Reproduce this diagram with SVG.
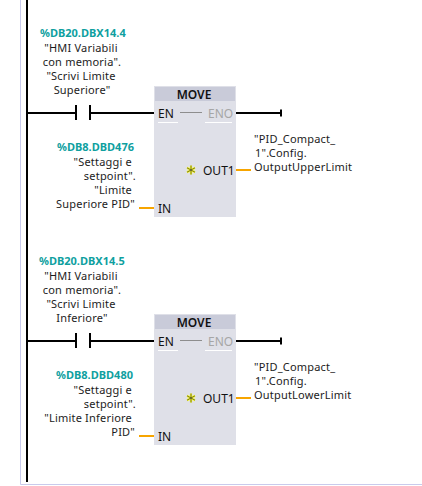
<svg xmlns="http://www.w3.org/2000/svg" width="422" height="486" viewBox="0 0 422 486">
<style>
text{font-family:"Noto Sans","Open Sans","Liberation Sans",sans-serif;font-size:11px;fill:#1c1c1c;letter-spacing:.2px}
.tag{font-weight:700;fill:#0f9f9f;font-size:11px;letter-spacing:0}
.m{text-anchor:middle}.e{text-anchor:end}
.pin{font-size:12px;fill:#111;letter-spacing:0}
.title{font-size:12px;font-weight:600;text-anchor:middle;fill:#111;letter-spacing:0}
.eno{fill:#a6a6a6}
.blk{fill:#dfe0e8}.hdr{fill:#c9cbd9}
.w{stroke:#000;stroke-width:2;fill:none}
.o{stroke:#f7a500;stroke-width:2;fill:none}
.g{stroke:#8e8e8e;stroke-width:1;fill:none}
.u{stroke:#fff;stroke-width:1;fill:none}
.sd{stroke:#ffff20;stroke-width:2.2;fill:none}
.sy{stroke:#4a4a30;stroke-width:.8;fill:none}
</style>
<defs>
<g id="star"><path class="sd" d="M0-4.500V4.500M-4-2.200 4 2.200M-4 2.200 4-2.200"/><path class="sy" d="M0-4.500V4.500M-4-2.200 4 2.200M-4 2.200 4-2.200"/></g>
</defs>
<rect width="422" height="486" fill="#fff"/>
<g id="frame" fill="none" stroke="#c9cbec" stroke-width="1"><path d="M20.500 0V484.500H422"/></g>
<g id="connectors">
<path class="w" d="M27 0V482"/>
<path class="w" d="M27 113H76M76 105V120M90 105V120M90 113H154M236 113H281M281 109.500V116.500"/>
<path class="o" d="M139 208H154M236 170H251"/>
<path class="w" d="M27 341H76M76 333V348M90 333V348M90 341H154M236 341H281M281 337.500V344.500"/>
<path class="o" d="M139 436H154M236 398H251"/>
</g>
<g id="contact1-label">
<text class="tag" x="40" y="37">%DB20.DBX14.4</text>
<text class="m" x="81" y="52">"HMI Variabili</text><text class="m" x="82" y="66">con memoria".</text>
<text class="m" x="81" y="80">"Scrivi Limite</text><text class="m" x="82" y="94">Superiore"</text>
</g>
<g id="in1-label">
<text class="tag" x="57" y="151">%DB8.DBD476</text>
<text class="e" x="132" y="166">"Settaggi e</text><text class="e" x="136" y="180">setpoint".</text>
<text class="e" x="132" y="194">"Limite</text><text class="e" x="135" y="208">Superiore PID"</text>
</g>
<g id="move1">
<rect class="blk" x="154" y="86" width="82" height="131"/><rect class="hdr" x="155" y="87" width="80" height="14"/>
<text class="title" x="194" y="99">MOVE</text>
<text class="pin" x="158" y="118">EN</text><text class="pin eno" x="208" y="118">ENO</text>
<path class="g" d="M180 112.500H202"/><path class="u" d="M158 122.500H178M205 122.500H232"/>
<use href="#star" x="191" y="170"/>
<text class="pin" x="203" y="175">OUT1</text><text class="pin" x="158" y="213">IN</text>
</g>
<g id="out1-label">
<text x="254" y="143">"PID_Compact_</text><text x="255" y="157">1".Config.</text><text x="254" y="171">OutputUpperLimit</text>
</g>
<g id="contact2-label">
<text class="tag" x="39" y="265">%DB20.DBX14.5</text>
<text class="m" x="81" y="280">"HMI Variabili</text><text class="m" x="82" y="294">con memoria".</text>
<text class="m" x="81" y="308">"Scrivi Limite</text><text class="m" x="82" y="322">Inferiore"</text>
</g>
<g id="in2-label">
<text class="tag" x="56" y="379">%DB8.DBD480</text>
<text class="e" x="132" y="394">"Settaggi e</text><text class="e" x="136" y="408">setpoint".</text>
<text class="e" x="132" y="422">"Limite Inferiore</text><text class="e" x="135" y="436">PID"</text>
</g>
<g id="move2">
<rect class="blk" x="154" y="314" width="82" height="131"/><rect class="hdr" x="155" y="315" width="80" height="14"/>
<text class="title" x="194" y="327">MOVE</text>
<text class="pin" x="158" y="346">EN</text><text class="pin eno" x="208" y="346">ENO</text>
<path class="g" d="M180 340.500H202"/><path class="u" d="M158 350.500H178M205 350.500H232"/>
<use href="#star" x="191" y="398"/>
<text class="pin" x="203" y="403">OUT1</text><text class="pin" x="158" y="441">IN</text>
</g>
<g id="out2-label">
<text x="254" y="371">"PID_Compact_</text><text x="255" y="385">1".Config.</text><text x="254" y="399">OutputLowerLimit</text>
</g>
</svg>
